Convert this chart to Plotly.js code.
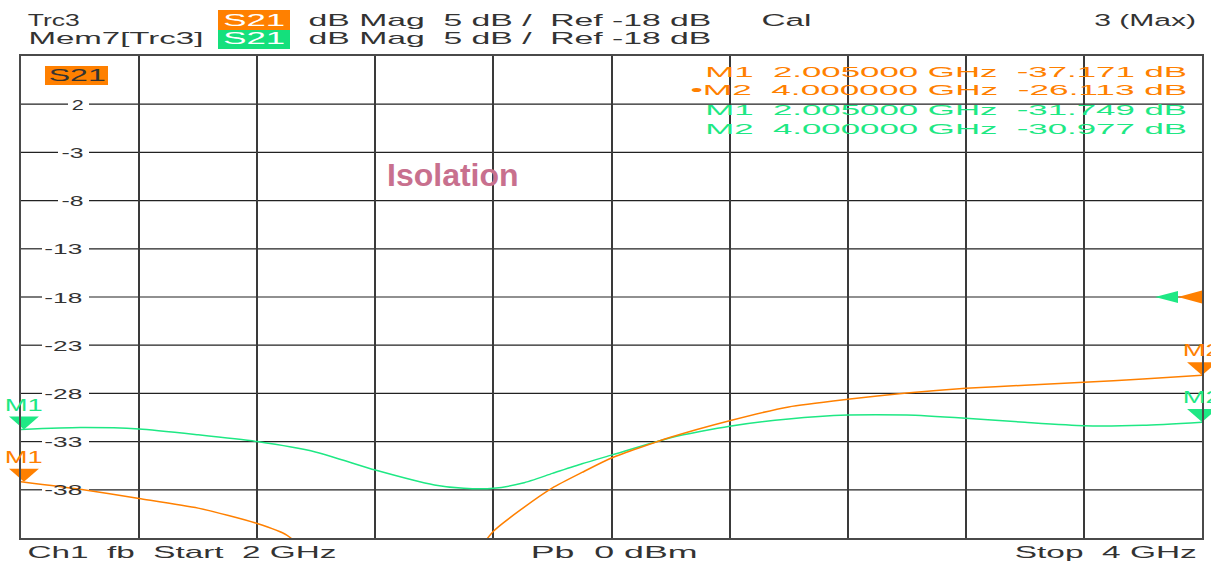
<!DOCTYPE html>
<html><head><meta charset="utf-8">
<script src="https://cdn.plot.ly/plotly-3.0.1.min.js"></script>
<style>html,body{margin:0;padding:0;background:#fff}</style>
</head><body><div id="chart" style="width:1211px;height:563px"></div>
<script>
// ---- data ----
const startGHz = 2, stopGHz = 4;
const refLevel = -18, dbPerDiv = 5;
const trc3Freq = [2.00, 2.10, 2.20, 2.30, 2.40, 2.45, 2.50, 2.55, 2.60, 2.65, 2.70, 2.75, 2.80, 2.85, 2.90, 2.95, 3.00, 3.10, 3.20, 3.30, 3.40, 3.50, 3.60, 3.70, 3.80, 3.90, 4.00];
const trc3S21 = [-37.17, -37.95, -38.9, -39.9, -41.5, -42.7, -45.5, -49.0, -54.0, -56.0, -52.0, -46.5, -42.3, -39.9, -37.8, -36.2, -34.7, -32.55, -30.83, -29.4, -28.61, -27.95, -27.47, -27.15, -26.85, -26.5, -26.11];
const mem7Freq = [2.00, 2.10, 2.20, 2.30, 2.40, 2.50, 2.60, 2.70, 2.75, 2.80, 2.85, 2.90, 2.95, 3.00, 3.10, 3.20, 3.30, 3.40, 3.50, 3.60, 3.70, 3.80, 3.90, 4.00];
const mem7S21 = [-31.75, -31.55, -31.7, -32.3, -33.0, -34.1, -35.95, -37.5, -37.85, -37.85, -37.3, -36.3, -35.3, -34.4, -32.6, -31.4, -30.65, -30.25, -30.25, -30.58, -31.0, -31.35, -31.3, -30.98];
const markerFreq = [2.005, 4.0];
const trc3Markers = [-37.171, -26.113];
const mem7Markers = [-31.749, -30.977];
const yTickVals = [2, -3, -8, -13, -18, -23, -28, -33, -38];
const yTickText = ['2', '-3', '-8', '-13', '-18', '-23', '-28', '-33', '-38'];
const yRange = [-43, 7];

// ---- styles ----
const ORANGE = '#ff8000', GREEN = '#1ee884', TXT = '#333333';
const FONT = 'Liberation Sans, Arial, sans-serif';
const W = 1211, H = 563, ML = 21, MR = 9, MT = 56, MB = 25;
const PW = W - ML - MR, PH = H - MT - MB;
const px2x = px => (px - ML) / PW;
const py2y = py => (H - MB - py) / PH;
const nb = '\u00a0';

const annotations = [], stretchW = [];
function label(text, px, py, opt, w) {
  const a = Object.assign({text: text, xref: 'paper', yref: 'paper', x: px2x(px), y: py2y(py), showarrow: false,
    xanchor: 'left', yanchor: 'middle', font: {family: FONT, size: 17, color: TXT}}, opt || {});
  annotations.push(a); stretchW.push(w || 0);
}
const scaleTxt = `dB${nb}Mag${nb}${nb}${dbPerDiv}${nb}dB${nb}/${nb}${nb}Ref${nb}${refLevel}${nb}dB`;
label('Trc3', 25, 20, {}, 52);
label('S21', 254, 20, {xanchor: 'center', font: {family: FONT, size: 17, color: '#ffffff'}}, 62);
label(scaleTxt, 305, 20, {}, 403);
label('Cal', 758, 20, {}, 50);
label(`3${nb}(Max)`, 1200, 20, {xanchor: 'right'}, 102);
label('Mem7[Trc3]', 25, 39, {}, 175);
label('S21', 254, 39, {xanchor: 'center', font: {family: FONT, size: 17, color: '#ffffff'}}, 62);
label(scaleTxt, 305, 39, {}, 403);
label(`Ch1${nb}${nb}fb${nb}${nb}Start${nb}${nb}${startGHz}${nb}GHz`, 24, 552, {}, 309);
label(`Pb${nb}${nb}0${nb}dBm`, 527, 552, {}, 167);
label(`Stop${nb}${nb}${stopGHz}${nb}GHz`, 1201, 552, {xanchor: 'right'}, 182);
label('S21', 77, 76, {xanchor: 'center', font: {family: FONT, size: 17, color: TXT}}, 57);
label('<b>Isolation</b>', 453, 175, {xanchor: 'center', font: {family: FONT, size: 32, color: '#c8708e'}}, 0);

function readout(i, vals, color, py, bullet) {
  const t = `${bullet ? '•' : ''}M${i + 1}${nb}${nb}${markerFreq[i].toFixed(6)}${nb}GHz${nb}${nb}${vals[i].toFixed(3)}${nb}dB`;
  label(t, 1192, py, {xanchor: 'right', font: {family: FONT, size: 15, color: color}}, bullet ? 497 : 482);
}
readout(0, trc3Markers, ORANGE, 71, false);
readout(1, trc3Markers, ORANGE, 90, true);
readout(0, mem7Markers, GREEN, 109, false);
readout(1, mem7Markers, GREEN, 128, false);

// y tick labels drawn inside the grid
const tickW = s => s.length === 1 ? 12 : (s.length === 2 ? 22 : 38);
yTickVals.forEach((v, i) => {
  annotations.push({xref: 'paper', yref: 'y', x: px2x(86), y: v, showarrow: false, xanchor: 'right', yanchor: 'middle',
    text: yTickText[i], font: {family: FONT, size: 15, color: TXT}});
  stretchW.push(tickW(yTickText[i]));
});

// marker labels
function mlabel(i, vals, color) {
  annotations.push({xref: 'x', yref: 'y', x: markerFreq[i], y: vals[i], showarrow: false, xanchor: 'center', yanchor: 'bottom',
    yshift: 13, text: `M${i + 1}`, font: {family: FONT, size: 17, color: color}});
  stretchW.push(38);
}
mlabel(0, mem7Markers, GREEN); mlabel(1, mem7Markers, GREEN);
mlabel(0, trc3Markers, ORANGE); mlabel(1, trc3Markers, ORANGE);

const shapes = [
  {type: 'rect', xref: 'paper', yref: 'paper', x0: px2x(218), x1: px2x(290), y0: py2y(30), y1: py2y(10), fillcolor: ORANGE, line: {width: 0}, layer: 'below'},
  {type: 'rect', xref: 'paper', yref: 'paper', x0: px2x(218), x1: px2x(290), y0: py2y(49), y1: py2y(30), fillcolor: '#14e07c', line: {width: 0}, layer: 'below'},
  {type: 'rect', xref: 'paper', yref: 'paper', x0: px2x(45), x1: px2x(108), y0: py2y(85), y1: py2y(66), fillcolor: ORANGE, line: {width: 0}, layer: 'above'},
  // reference level arrows
  {type: 'path', xref: 'paper', yref: 'y', xsizemode: 'pixel', ysizemode: 'pixel', xanchor: 1, yanchor: refLevel,
    path: 'M0,-6.5 L0,6.5 L-24,0 Z', fillcolor: ORANGE, line: {width: 0}},
  {type: 'path', xref: 'paper', yref: 'y', xsizemode: 'pixel', ysizemode: 'pixel', xanchor: 1, yanchor: refLevel,
    path: 'M-24,-6 L-24,6 L-47,0 Z', fillcolor: GREEN, line: {width: 0}}
];
// horizontal graticule lines, broken where the level labels sit
yTickText.forEach((s, i) => {
  const gapL = 86 - tickW(s) - 6;
  shapes.push({type: 'line', xref: 'paper', yref: 'y', x0: 0, x1: px2x(gapL), y0: yTickVals[i], y1: yTickVals[i],
    line: {color: '#222222', width: 1.2}, layer: 'below'});
  shapes.push({type: 'line', xref: 'paper', yref: 'y', x0: px2x(89), x1: 1, y0: yTickVals[i], y1: yTickVals[i],
    line: {color: '#222222', width: 1.2}, layer: 'below'});
});

const data = [
  {x: mem7Freq, y: mem7S21, type: 'scatter', mode: 'lines', line: {color: GREEN, width: 1.5, shape: 'spline', smoothing: 0.6}, name: 'Mem7[Trc3] S21'},
  {x: trc3Freq, y: trc3S21, type: 'scatter', mode: 'lines', line: {color: ORANGE, width: 1.5, shape: 'spline', smoothing: 0.6}, name: 'Trc3 S21'},
  {x: markerFreq, y: mem7Markers, type: 'scatter', mode: 'markers', cliponaxis: false, marker: {symbol: 'arrow-down', size: 13, color: GREEN, line: {width: 0}}},
  {x: markerFreq, y: trc3Markers, type: 'scatter', mode: 'markers', cliponaxis: false, marker: {symbol: 'arrow-down', size: 13, color: ORANGE, line: {width: 0}}}
];

const layout = {
  width: W, height: H, margin: {l: ML, r: MR, t: MT, b: MB, pad: 0},
  paper_bgcolor: '#ffffff', plot_bgcolor: '#ffffff', showlegend: false, hovermode: false,
  xaxis: {range: [startGHz, stopGHz], tick0: startGHz, dtick: (stopGHz - startGHz) / 10, showticklabels: false, ticks: '',
    showgrid: true, gridcolor: '#3a3a3a', gridwidth: 2, zeroline: false, showline: true, mirror: true, linecolor: '#4a4a4a', linewidth: 2},
  yaxis: {range: yRange, tickvals: yTickVals, showticklabels: false, ticks: '',
    showgrid: false, zeroline: false, showline: true, mirror: true, linecolor: '#4a4a4a', linewidth: 2},
  annotations: annotations, shapes: shapes
};

Plotly.newPlot('chart', data, layout, {staticPlot: true, displayModeBar: false}).then(gd => {
  stretchW.forEach((w, i) => {
    if (!w) return;
    const g = gd.querySelector(`g.annotation[data-index="${i}"] g.annotation-text-g > g`);
    if (!g) return;
    const t = g.querySelector('text.annotation-text');
    if (!t) return;
    const tb = t.getBBox(), gb = g.getBBox();
    if (!tb.width) return;
    const k = w / tb.width;
    const anc = annotations[i].xanchor;
    const ax = anc === 'left' ? gb.x : (anc === 'right' ? gb.x + gb.width : gb.x + gb.width / 2);
    const prev = g.getAttribute('transform') || '';
    g.setAttribute('transform', `${prev} translate(${ax},0) scale(${k},1) translate(${-ax},0)`);
  });
  // widen the marker triangles (flat instrument-style markers, tip stays on the trace)
  gd.querySelectorAll('.scatterlayer .trace .points path.point').forEach(p => {
    const tr = p.getAttribute('transform') || '';
    p.setAttribute('transform', `${tr} scale(2.3,1)`);
  });
});
</script>
</body></html>
